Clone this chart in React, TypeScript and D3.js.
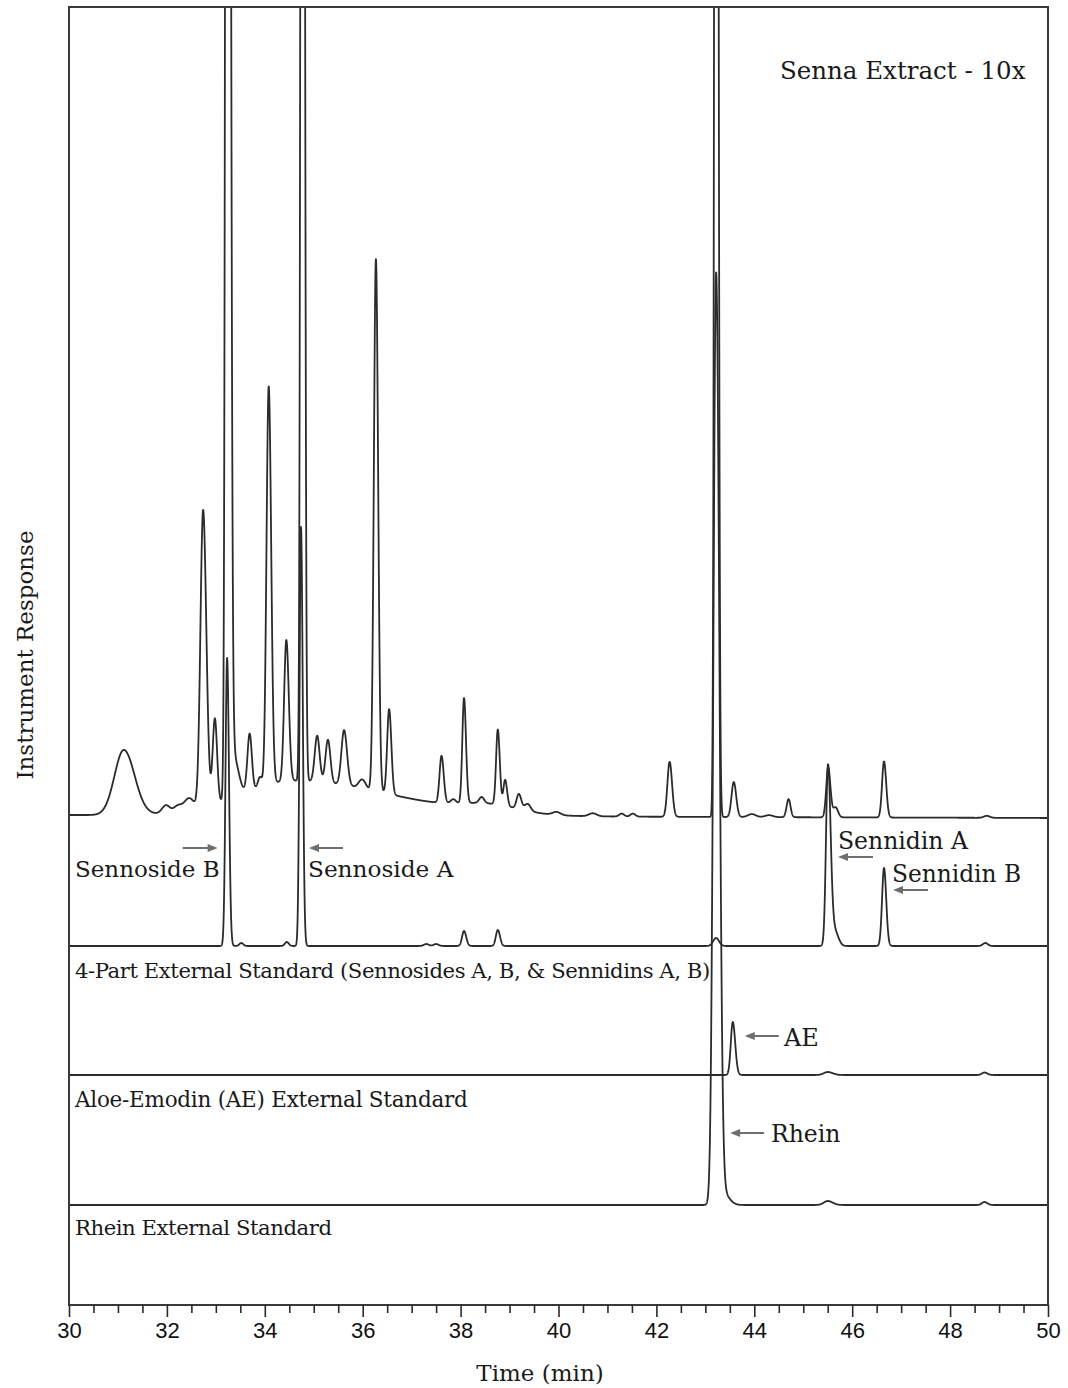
import React from "react";
import * as d3 from "d3";

// Time axis (min) and response range shared by the stacked traces
const timeDomain: [number, number] = [30, 50];
const responseDomain: [number, number] = [0, 1298];
const majorTicks = [30, 32, 34, 36, 38, 40, 42, 44, 46, 48, 50];
const minorTicks = [
  30.5, 31, 31.5, 32.5, 33, 33.5, 34.5, 35, 35.5, 36.5, 37, 37.5, 38.5, 39, 39.5,
  40.5, 41, 41.5, 42.5, 43, 43.5, 44.5, 45, 45.5, 46.5, 47, 47.5, 48.5, 49, 49.5,
];

// Peak tables: [retention time (min), height, sigma before apex, sigma after apex]
const sennaExtractPeaks: number[][] = [
  [31.12, 65, 0.19, 0.22],
  [31.98, 8, 0.08, 0.08],
  [32.22, 6, 0.08, 0.08],
  [32.45, 12, 0.1, 0.1],
  [32.74, 297, 0.055, 0.065],
  [32.98, 85, 0.045, 0.045],
  [33.24, 3000, 0.033, 0.045],
  [33.36, 40, 0.05, 0.1],
  [33.69, 57, 0.045, 0.045],
  [33.9, 10, 0.04, 0.04],
  [34.08, 398, 0.045, 0.05],
  [34.44, 141, 0.045, 0.05],
  [34.77, 2600, 0.03, 0.035],
  [35.07, 46, 0.05, 0.05],
  [35.29, 43, 0.05, 0.05],
  [35.62, 55, 0.055, 0.06],
  [35.99, 9, 0.07, 0.07],
  [36.27, 532, 0.042, 0.045],
  [36.54, 85, 0.04, 0.045],
  [37.61, 47, 0.04, 0.045],
  [37.85, 4, 0.05, 0.05],
  [38.07, 105, 0.035, 0.04],
  [38.43, 6, 0.05, 0.05],
  [38.76, 75, 0.035, 0.04],
  [38.91, 26, 0.035, 0.04],
  [39.19, 15, 0.045, 0.05],
  [39.37, 7, 0.06, 0.06],
  [39.96, 3, 0.08, 0.08],
  [40.7, 3, 0.08, 0.08],
  [41.29, 3, 0.05, 0.05],
  [41.52, 3, 0.05, 0.05],
  [42.27, 55, 0.045, 0.05],
  [43.22, 2600, 0.028, 0.035],
  [43.58, 35, 0.045, 0.05],
  [43.95, 3, 0.08, 0.08],
  [44.3, 2, 0.08, 0.08],
  [44.7, 18, 0.04, 0.04],
  [45.51, 50, 0.04, 0.045],
  [45.66, 10, 0.05, 0.05],
  [46.65, 56, 0.04, 0.045],
  [48.75, 2, 0.06, 0.06],
  // broad unresolved matrix hump under the crowded region
  [34.6, 35, 1.1, 2.0],
  [38.6, 8, 0.6, 0.6],
];

const fourPartStandardPeaks: number[][] = [
  [33.23, 288, 0.033, 0.038],
  [33.52, 3, 0.04, 0.04],
  [34.45, 4, 0.04, 0.04],
  [34.74, 419, 0.03, 0.035],
  [37.3, 2, 0.05, 0.05],
  [37.5, 2, 0.05, 0.05],
  [38.07, 15, 0.04, 0.045],
  [38.76, 16, 0.04, 0.045],
  [43.22, 8, 0.06, 0.06],
  [45.505, 181, 0.04, 0.055],
  [45.65, 14, 0.06, 0.07],
  [46.65, 78, 0.04, 0.045],
  [48.72, 3, 0.05, 0.05],
];

const aloeEmodinPeaks: number[][] = [
  [43.56, 53, 0.04, 0.05],
  [45.5, 3, 0.08, 0.1],
  [48.7, 2.5, 0.05, 0.06],
];

const rheinPeaks: number[][] = [
  [43.22, 930, 0.055, 0.065],
  [43.36, 12, 0.08, 0.12],
  [45.5, 4, 0.08, 0.1],
  [48.7, 3, 0.05, 0.06],
];

// Baseline level of each trace at the start and end of the run
const sennaExtractBaseline = [490, 487];
const fourPartBaseline = [359, 359];
const aloeEmodinBaseline = [230, 230];
const rheinBaseline = [100, 100];

const traceLabels = [
  "4-Part External Standard (Sennosides A, B, & Sennidins A, B)",
  "Aloe-Emodin (AE) External Standard",
  "Rhein External Standard",
];

const W = 1068;
const H = 1388;
const plot = { left: 69, right: 1048, top: 7, bottom: 1305 };

const serif = "'DejaVu Serif', serif";
const sans = "'Liberation Sans', Arial, sans-serif";
const ink = "#2b2b2b";
const arrowGrey = "#6e6e6e";
const textInk = "#1a1a1a";

function buildTrace(peaks: number[][], baseline: number[]): [number, number][] {
  const pts: [number, number][] = [];
  const step = 0.0025;
  const n = Math.round((timeDomain[1] - timeDomain[0]) / step);
  for (let i = 0; i <= n; i++) {
    const t = timeDomain[0] + i * step;
    const f = (t - timeDomain[0]) / (timeDomain[1] - timeDomain[0]);
    let v = baseline[0] + (baseline[1] - baseline[0]) * f;
    for (const [c, h, sl, sr] of peaks) {
      const s = t < c ? sl : sr;
      const z = (t - c) / s;
      if (Math.abs(z) < 9) v += h * Math.exp(-0.5 * z * z);
    }
    pts.push([t, v]);
  }
  return pts;
}

function Arrow({ x1, x2, y }: { x1: number; x2: number; y: number }) {
  // arrow drawn from x1 (tail) to x2 (head)
  const dir = Math.sign(x2 - x1);
  const head = 10;
  const half = 4;
  return (
    <g>
      <line x1={x1} y1={y} x2={x2 - dir * head * 0.6} y2={y} stroke={arrowGrey} strokeWidth={2} />
      <path
        d={`M${x2},${y} L${x2 - dir * head},${y - half} L${x2 - dir * head},${y + half} Z`}
        fill={arrowGrey}
      />
    </g>
  );
}

function Label({
  x,
  y,
  size,
  spacing = 0,
  children,
}: {
  x: number;
  y: number;
  size: number;
  spacing?: number;
  children: React.ReactNode;
}) {
  return (
    <text x={x} y={y} fontFamily={serif} fontSize={size} letterSpacing={spacing} fill={textInk}>
      {children}
    </text>
  );
}

export default function App() {
  const x = d3.scaleLinear().domain(timeDomain).range([plot.left, plot.right]);
  const y = d3.scaleLinear().domain(responseDomain).range([plot.bottom, plot.top]);

  const line = d3
    .line<[number, number]>()
    .x((d) => x(d[0]))
    .y((d) => y(d[1]));

  const traces = [
    buildTrace(sennaExtractPeaks, sennaExtractBaseline),
    buildTrace(fourPartStandardPeaks, fourPartBaseline),
    buildTrace(aloeEmodinPeaks, aloeEmodinBaseline),
    buildTrace(rheinPeaks, rheinBaseline),
  ];

  const axisRef = React.useRef<SVGGElement>(null);
  React.useEffect(() => {
    if (!axisRef.current) return;
    const g = d3.select(axisRef.current);
    g.selectAll("*").remove();
    const major = d3
      .axisBottom(x)
      .tickValues(majorTicks)
      .tickSize(12)
      .tickSizeOuter(0)
      .tickFormat((d) => String(d));
    const minor = d3
      .axisBottom(x)
      .tickValues(minorTicks)
      .tickSize(8)
      .tickSizeOuter(0)
      .tickFormat(() => "");
    const gMinor = g.append("g").call(minor);
    gMinor.select(".domain").remove();
    const gMajor = g.append("g").call(major);
    gMajor.select(".domain").remove();
    g.selectAll("line").attr("stroke", ink).attr("stroke-width", 1.6);
    g.selectAll("text")
      .attr("fill", "#111")
      .attr("font-family", sans)
      .attr("font-size", 22)
      .attr("dy", "0.71em")
      .attr("y", 17);
  }, []);

  const xb = x(33.24);
  const xa = x(34.74);
  const xsa = x(45.505);
  const xsb = x(46.65);
  const xae = x(43.56);
  const xrh = x(43.22);

  return (
    <svg
      width={W}
      height={H}
      viewBox={`0 0 ${W} ${H}`}
      style={{ position: "absolute", left: 0, top: 0, background: "#fff" }}
    >
      <defs>
        <clipPath id="plot-clip">
          <rect x={plot.left} y={plot.top} width={plot.right - plot.left} height={plot.bottom - plot.top} />
        </clipPath>
      </defs>
      <rect width={W} height={H} fill="#fff" />

      <g clipPath="url(#plot-clip)">
        {traces.map((tr, i) => (
          <path
            key={i}
            d={line(tr) || ""}
            fill="none"
            stroke={ink}
            strokeWidth={1.8}
            strokeLinejoin="round"
          />
        ))}
      </g>

      {/* frame */}
      <path
        d={`M${plot.left},${plot.bottom} L${plot.left},${plot.top} L${plot.right},${plot.top} L${plot.right},${plot.bottom} Z`}
        fill="none"
        stroke="#3a3a3a"
        strokeWidth={2}
      />
      <g ref={axisRef} transform={`translate(0,${plot.bottom})`} />

      {/* trace annotations */}
      <Label x={780} y={79} size={24.5}>Senna Extract - 10x</Label>
      <Label x={75} y={877} size={23}>Sennoside B</Label>
      <Label x={308} y={877} size={23.2}>Sennoside A</Label>
      <Label x={838} y={849} size={23.5}>Sennidin A</Label>
      <Label x={892} y={882} size={23.3}>Sennidin B</Label>
      <Label x={784} y={1046} size={24}>AE</Label>
      <Label x={771} y={1142} size={23.5}>Rhein</Label>
      <Label x={75} y={978} size={21.2} spacing={-0.45}>{traceLabels[0]}</Label>
      <Label x={75} y={1107} size={21.5} spacing={-0.25}>{traceLabels[1]}</Label>
      <Label x={75} y={1235} size={21.2} spacing={-0.45}>{traceLabels[2]}</Label>

      <Arrow x1={xb - 45} x2={xb - 10} y={848} />
      <Arrow x1={xa + 42} x2={xa + 8} y={848} />
      <Arrow x1={xsa + 45} x2={xsa + 10} y={857} />
      <Arrow x1={xsb + 44} x2={xsb + 9} y={890} />
      <Arrow x1={xae + 46} x2={xae + 12} y={1036} />
      <Arrow x1={xrh + 48} x2={xrh + 14} y={1133} />

      {/* axis titles */}
      <text x={540} y={1381} textAnchor="middle" fontFamily={serif} fontSize={23} fill={textInk}>
        Time (min)
      </text>
      <text
        transform="translate(33,655) rotate(-90)"
        textAnchor="middle"
        fontFamily={serif}
        fontSize={23}
        fill={textInk}
      >
        Instrument Response
      </text>
    </svg>
  );
}
